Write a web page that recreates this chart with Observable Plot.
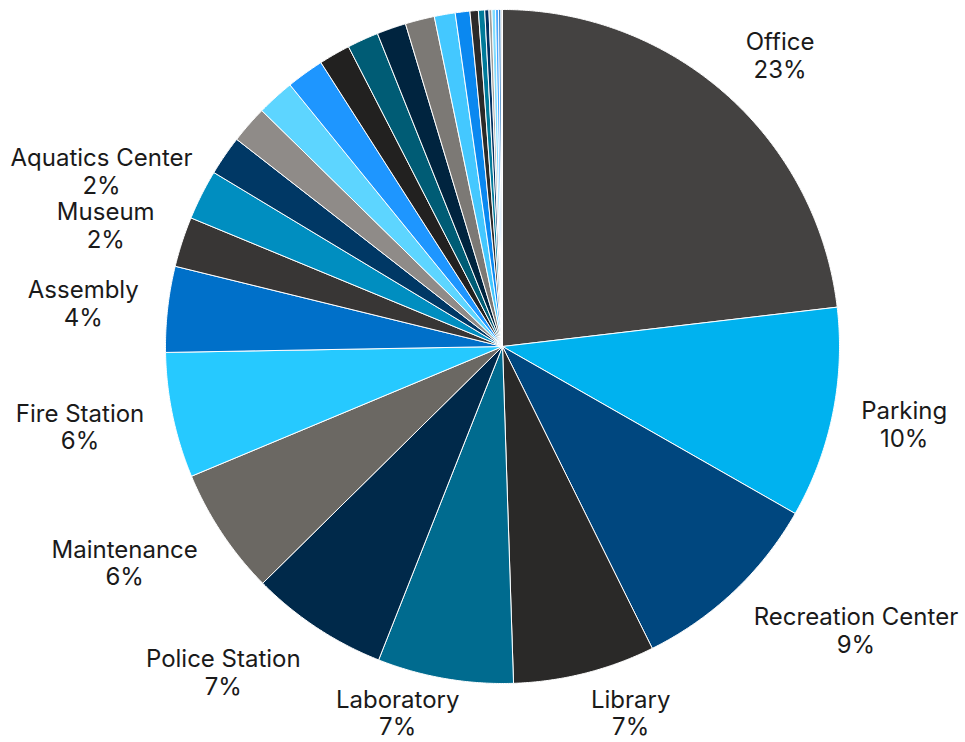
<!DOCTYPE html>
<html>
<head>
<meta charset="utf-8">
<script src="https://cdn.jsdelivr.net/npm/d3@7"></script>
<script src="https://cdn.jsdelivr.net/npm/@observablehq/plot@0.6"></script>
<style>
  html, body { margin: 0; padding: 0; background: #ffffff; }
  #chart svg { display: block; }
</style>
</head>
<body>
<div id="chart"></div>
<script>
// Building types (clockwise from 12 o'clock)
const categories = [
  "Office", "Parking", "Recreation Center", "Library", "Laboratory",
  "Police Station", "Maintenance", "Fire Station", "Assembly", "Museum",
  "Aquatics Center", "Other 12", "Other 13", "Other 14", "Other 15",
  "Other 16", "Other 17", "Other 18", "Other 19", "Other 20",
  "Other 21", "Other 22", "Other 23", "Other 24", "Other 25",
  "Other 26", "Other 27", "Other 28", "Other 29"
];
// Share of total (%)
const values = [
  23.1, 10.1, 9.4, 6.8, 6.5,
  6.6, 6.1, 6.0, 4.1, 2.4,
  2.4, 1.9, 1.8, 1.8, 1.8,
  1.5, 1.5, 1.4, 1.4, 1.0,
  0.7, 0.4, 0.3, 0.2, 0.14,
  0.17, 0.14, 0.12, 0.07
];
const palette = [
  "#444241", "#00b2ef", "#00477f", "#2a2928", "#006b8f",
  "#00294a", "#6b6863", "#26c9ff", "#0070c9", "#383635",
  "#008ec0", "#003865", "#8f8b88", "#5dd5ff", "#1e96ff",
  "#222120", "#005c75", "#00243f", "#7c7975", "#44c8ff",
  "#0a88f0", "#2b2a29", "#007a9a", "#003060", "#a09d9a",
  "#80dcff", "#4aa8ff", "#3a7fc0", "#c8c8c8"
];

// layout
const W = 965, H = 742;
const cx = 502, cy = 346, R = 337;
const fontSize = 24, lineH = 1.15;
const fontFamily = "Inter, 'Noto Sans', sans-serif";

const total = d3.sum(values);
const arcs = d3.pie().sort(null).value(d => d)(values);

// slice outlines in unit coordinates (y up)
const slicePts = [];
arcs.forEach((a, i) => {
  const cat = categories[i];
  const n = Math.max(2, Math.ceil((a.endAngle - a.startAngle) / 0.005));
  slicePts.push({cat, x: 0, y: 0});
  for (let k = 0; k <= n; k++) {
    const t = a.startAngle + (a.endAngle - a.startAngle) * k / n;
    slicePts.push({cat, x: Math.sin(t), y: Math.cos(t)});
  }
  slicePts.push({cat, x: 0, y: 0});
});

// label placement
const ctx = document.createElement("canvas").getContext("2d");
ctx.font = `${fontSize}px ${fontFamily}`;
const clamp = v => Math.max(-1, Math.min(1, v));
const labels = [];
arcs.forEach((a, i) => {
  const pct = values[i] / total * 100;
  if (pct < 2) return;
  const name = categories[i];
  const pctText = Math.round(pct) + "%";
  const w = Math.max(ctx.measureText(name).width, ctx.measureText(pctText).width);
  const h = 46;
  const mid = (a.startAngle + a.endAngle) / 2;
  const D = R + 29;
  const s = Math.sin(mid), c = Math.cos(mid);
  const ax = cx + D * s, ay = cy - D * c;
  let lx = ax + clamp(4 * s) * w / 2;
  lx = Math.max(10 + w / 2, Math.min(W - 4 - w / 2, lx));
  const ly = Math.min(H - 30, ay - clamp(1.05 * c) * h / 2);
  labels.push({text: name + "\n" + pctText, x: (lx - cx) / R, y: (cy - ly) / R});
});

const chart = Plot.plot({
  width: W,
  height: H,
  margin: 0,
  style: {background: "#ffffff", fontFamily, fontSize: fontSize + "px"},
  x: {domain: [-1, 1], range: [cx - R, cx + R], axis: null},
  y: {domain: [-1, 1], range: [cy + R, cy - R], axis: null},
  color: {domain: categories, range: palette},
  marks: [
    Plot.line(slicePts, {x: "x", y: "y", z: "cat", fill: "cat", stroke: "#ffffff", strokeWidth: 1, curve: "linear"}),
    Plot.text(labels, {x: "x", y: "y", text: "text", fill: "#1a1a1a", fontSize, lineHeight: lineH, textAnchor: "middle", lineAnchor: "middle"})
  ]
});
document.getElementById("chart").appendChild(chart);
</script>
</body>
</html>
